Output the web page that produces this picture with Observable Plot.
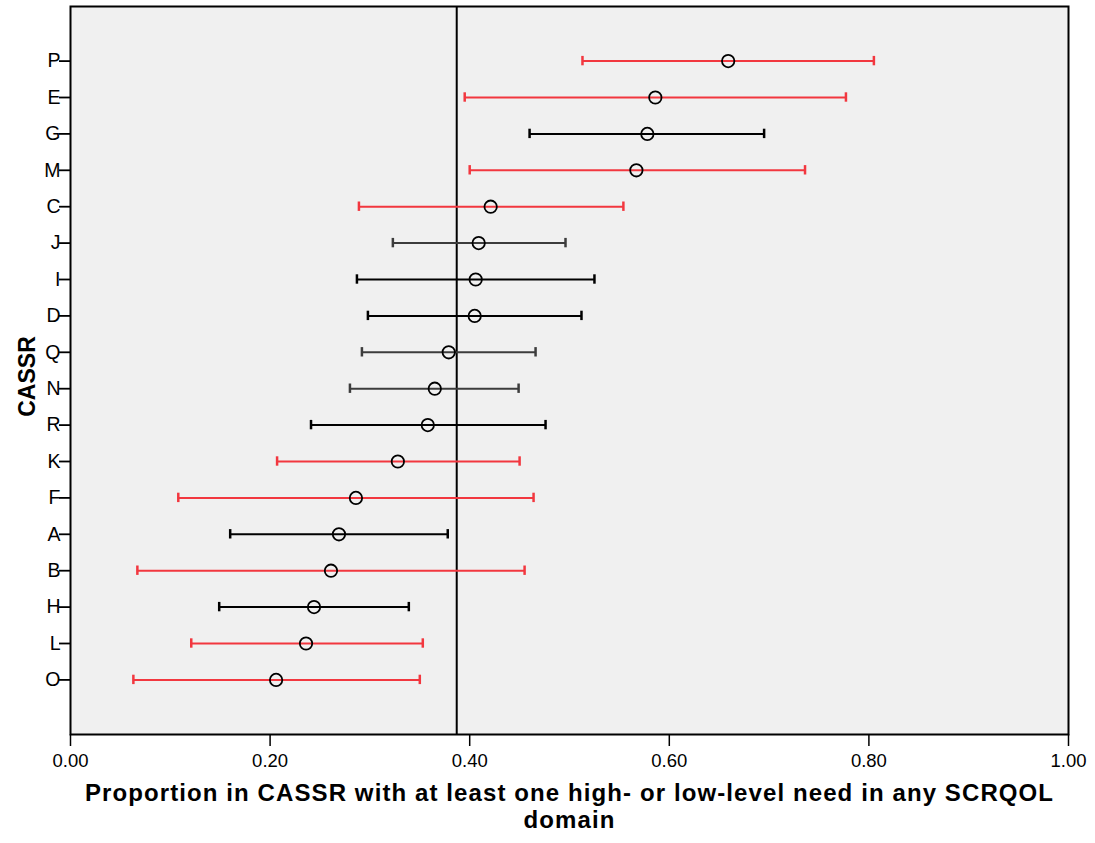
<!DOCTYPE html>
<html>
<head>
<meta charset="utf-8">
<script src="https://cdn.jsdelivr.net/npm/d3@7"></script>
<script src="https://cdn.jsdelivr.net/npm/@observablehq/plot@0.6"></script>
<style>
  html, body { margin: 0; padding: 0; background: #ffffff; }
  #chart svg { display: block; }
  .xtitle text { letter-spacing: 1.1px; }
</style>
</head>
<body>
<div id="chart"></div>
<script>
// Categories (top to bottom)
const categories = ["P","E","G","M","C","J","I","D","Q","N","R","K","F","A","B","H","L","O"];
// Point estimate (proportion)
const proportion = [0.659,0.586,0.578,0.567,0.421,0.409,0.406,0.405,0.379,0.365,0.358,0.328,0.286,0.269,0.261,0.244,0.236,0.206];
// Lower and upper confidence limits
const lower = [0.513,0.395,0.460,0.400,0.289,0.323,0.287,0.298,0.292,0.280,0.241,0.207,0.108,0.160,0.067,0.149,0.121,0.063];
const upper = [0.805,0.777,0.695,0.736,0.554,0.496,0.525,0.512,0.466,0.449,0.476,0.450,0.464,0.378,0.455,0.339,0.353,0.350];
// Group (colour class) of each bar
const group = ["red","red","black","red","red","gray","black","black","gray","gray","black","red","red","black","red","black","red","red"];
// Overall reference proportion
const overall = [0.387];
const xTicks = [0, 0.2, 0.4, 0.6, 0.8, 1.0];
const xTitle1 = "Proportion in CASSR with at least one high- or low-level need in any SCRQOL";
const xTitle2 = "domain";
const yTitle = "CASSR";

const colorMap = {red: "#f2373f", black: "#000000", gray: "#3c3c3c"};
const data = categories.map((c, i) => ({cat: c, p: proportion[i], lo: lower[i], hi: upper[i], g: group[i]}));

const font = "'Liberation Sans', Arial, sans-serif";

const chart = Plot.plot({
  width: 1095,
  height: 843,
  marginLeft: 70,
  marginRight: 27,
  marginTop: 6,
  marginBottom: 109,
  style: {fontFamily: font, fontSize: "18px", color: "#000", background: "#fff"},
  x: {domain: [0, 1]},
  y: {type: "band", domain: categories, paddingInner: 0, paddingOuter: 1, round: false},
  marks: [
    Plot.frame({fill: "#f0f0f0", stroke: "none"}),
    Plot.ruleX(overall, {stroke: "#000", strokeWidth: 2}),
    Plot.ruleY(data, {y: "cat", x1: "lo", x2: "hi", stroke: d => colorMap[d.g], strokeWidth: 2}),
    Plot.tickX(data, {x: "lo", y: "cat", stroke: d => colorMap[d.g], strokeWidth: 2.5, insetTop: 13.5, insetBottom: 13.5}),
    Plot.tickX(data, {x: "hi", y: "cat", stroke: d => colorMap[d.g], strokeWidth: 2.5, insetTop: 13.5, insetBottom: 13.5}),
    Plot.dot(data, {x: "p", y: "cat", r: 6.2, stroke: "#000", strokeWidth: 1.8, fill: "none"}),
    Plot.frame({stroke: "#000", strokeWidth: 2}),
    Plot.axisY({tickSize: 11, tickPadding: -1, label: null, fontSize: 19.5, stroke: "#000", strokeWidth: 1.8}),
    Plot.axisX({ticks: xTicks, tickFormat: d3.format(".2f"), tickSize: 12, tickPadding: 7, label: null, fontSize: 18.5, strokeWidth: 1.5}),
    Plot.text([xTitle1], {frameAnchor: "bottom", dy: 66, fontSize: 24, fontWeight: "bold", className: "xtitle", text: d => d}),
    Plot.text([xTitle2], {frameAnchor: "bottom", dy: 93, fontSize: 24, fontWeight: "bold", className: "xtitle", text: d => d}),
    Plot.text([yTitle], {frameAnchor: "left", dx: -43, dy: 6, rotate: -90, textAnchor: "middle", fontSize: 23, fontWeight: "bold", text: d => d})
  ]
});
document.getElementById("chart").appendChild(chart);
</script>
</body>
</html>
